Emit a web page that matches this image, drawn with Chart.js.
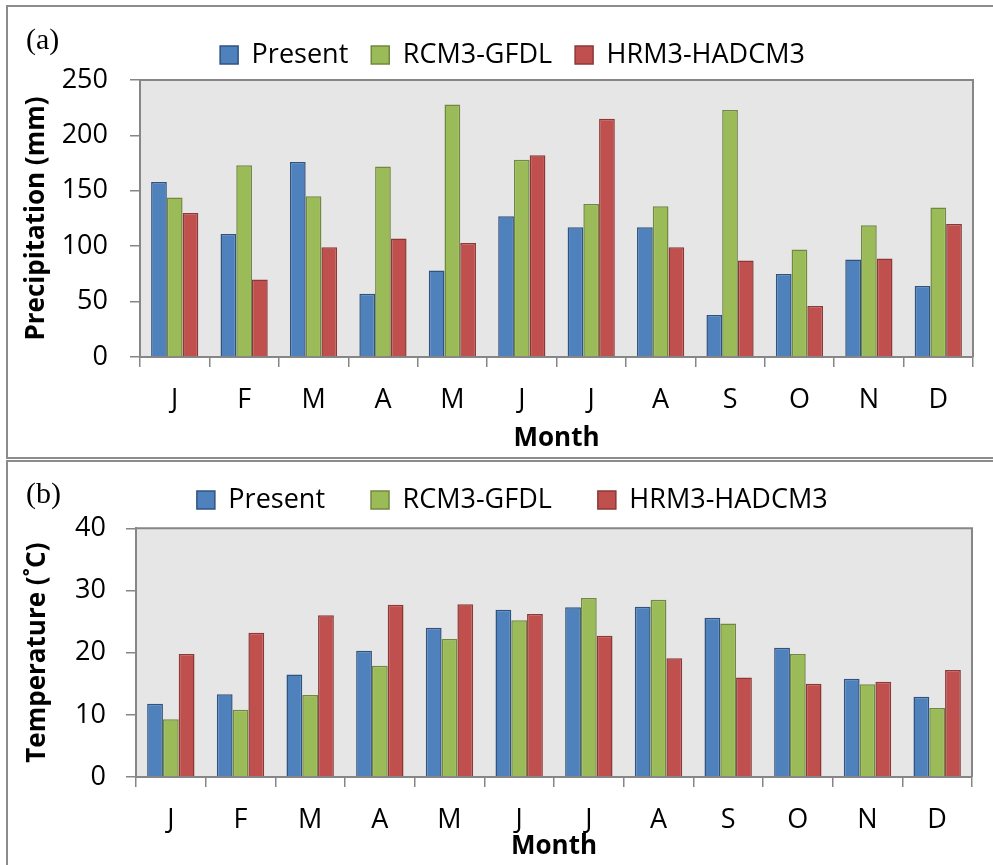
<!DOCTYPE html>
<html>
<head>
<meta charset="utf-8">
<script src="https://cdn.jsdelivr.net/npm/chart.js@4.4.1/dist/chart.umd.min.js"></script>
<style>
  html, body { margin: 0; padding: 0; background: #fff; overflow: hidden; width: 993px; height: 865px; }
  .panel { position: absolute; border: 2px solid #8c8c8c; box-sizing: border-box; }
  #panelA { left: 6px; top: 5px; width: 1010px; height: 454px; }
  #panelB { left: 6px; top: 460px; width: 1010px; height: 420px; }
  .wrap { position: absolute; left: 0; width: 993px; }
  #wrapA { top: 0; height: 459px; }
  #wrapB { top: 459px; height: 406px; }
  .tag { position: absolute; font-family: "Liberation Serif", "Times New Roman", serif; font-size: 30px; color: #000; line-height: 1; }
  #tagA { left: 26px; top: 24px; }
  #tagB { left: 26px; top: 478px; }
</style>
</head>
<body>
<div class="panel" id="panelA"></div>
<div class="panel" id="panelB"></div>
<div class="wrap" id="wrapA"><canvas id="chartA"></canvas></div>
<div class="wrap" id="wrapB"><canvas id="chartB"></canvas></div>
<div class="tag" id="tagA">(a)</div>
<div class="tag" id="tagB">(b)</div>
<script>
// Monthly categories
const months = ['J', 'F', 'M', 'A', 'M', 'J', 'J', 'A', 'S', 'O', 'N', 'D'];
const seriesNames = ['Present', 'RCM3-GFDL', 'HRM3-HADCM3'];

// Monthly precipitation (mm)
const precipPresent = [158, 111, 176, 57, 78, 127, 117, 117, 38, 75, 88, 64];
const precipRcm     = [144, 173, 145, 172, 228, 178, 138, 136, 223, 97, 119, 135];
const precipHrm     = [130, 70, 99, 107, 103, 182, 215, 99, 87, 46, 89, 120];

// Monthly mean temperature (°C)
const tempPresent = [11.8, 13.3, 16.5, 20.3, 24.0, 26.9, 27.3, 27.4, 25.6, 20.8, 15.8, 12.9];
const tempRcm     = [9.3, 10.8, 13.2, 17.9, 22.2, 25.2, 28.8, 28.5, 24.7, 19.8, 14.9, 11.1];
const tempHrm     = [19.8, 23.2, 26.0, 27.7, 27.8, 26.2, 22.7, 19.1, 16.0, 15.0, 15.3, 17.2];

// Axis ticks
const precipTicks = [0, 50, 100, 150, 200, 250];
const tempTicks = [0, 10, 20, 30, 40];

const fills   = ['#4F81BD', '#9BBB59', '#C0504D'];
const edges   = ['#2F5380', '#71893F', '#8C3836'];
const axisGray = '#868686';
const FONT = '"Open Sans", "Liberation Sans", Arial, sans-serif';

// Grey plot background with a frame around the plotting area
const plotFrame = {
  id: 'plotFrame',
  beforeDraw(chart) {
    const { ctx, chartArea: a } = chart;
    ctx.save();
    ctx.fillStyle = '#E6E6E6';
    ctx.fillRect(a.left, a.top, a.right - a.left, a.bottom - a.top);
    ctx.restore();
  },
  afterDraw(chart) {
    const { ctx, chartArea: a } = chart;
    ctx.save();
    ctx.strokeStyle = axisGray;
    ctx.lineWidth = 2;
    ctx.beginPath();
    ctx.moveTo(a.left, a.top);
    ctx.lineTo(a.right, a.top);
    ctx.lineTo(a.right, a.bottom);
    ctx.stroke();
    ctx.restore();
  }
};

function buildChart(id, values, ticks, cfg) {
  const datasets = values.map((v, i) => ({
    label: seriesNames[i],
    data: v,
    backgroundColor: fills[i],
    borderColor: edges[i],
    borderWidth: 1.5,
    categoryPercentage: 0.68,
    barPercentage: 1.0
  }));
  return new Chart(document.getElementById(id), {
    type: 'bar',
    data: { labels: months, datasets },
    plugins: [plotFrame],
    options: {
      responsive: true,
      maintainAspectRatio: false,
      animation: false,
      layout: { padding: cfg.padding },
      plugins: {
        tooltip: { enabled: false },
        legend: {
          position: 'top',
          labels: {
            color: '#000',
            boxWidth: 18,
            boxHeight: 18,
            padding: cfg.legendGap,
            font: { family: FONT, size: 27 }
          }
        },
        subtitle: {
          display: true,
          text: '',
          weight: 500,
          padding: 0,
          font: { size: cfg.spacer, lineHeight: 1 }
        }
      },
      scales: {
        x: {
          grid: { display: true, drawOnChartArea: false, offset: true, color: axisGray, lineWidth: 1.5, tickLength: 10 },
          border: { display: true, color: axisGray, width: 2 },
          ticks: { color: '#000', padding: cfg.xTickPad, font: { family: FONT, size: 27 } },
          title: {
            display: true, text: 'Month', color: '#000',
            font: { family: FONT, size: 26, weight: 'bold' },
            padding: { top: 0, bottom: cfg.xTitleBottom }
          },
          afterFit(scale) { scale.height = cfg.xHeight; }
        },
        y: {
          min: ticks[0],
          max: ticks[ticks.length - 1],
          afterBuildTicks(scale) { scale.ticks = ticks.map(v => ({ value: v })); },
          grid: { display: true, drawOnChartArea: false, color: axisGray, lineWidth: 1.5, tickLength: 10 },
          border: { display: true, color: axisGray, width: 2 },
          ticks: { color: '#000', padding: cfg.yTickPad, font: { family: FONT, size: 27 } },
          title: {
            display: true, text: cfg.yTitle, color: '#000',
            font: { family: FONT, size: 26, weight: 'bold' },
            padding: { top: cfg.yTitleTop, bottom: 0 }
          },
          afterFit(scale) { scale.width = cfg.yWidth; }
        }
      }
    }
  });
}

buildChart('chartA', [precipPresent, precipRcm, precipHrm], precipTicks, {
  padding: { left: 52, right: 20, top: 18.5, bottom: 0 },
  legendGap: 23,
  spacer: 1.5,
  xHeight: 102,
  xTickPad: 17,
  xTitleBottom: 5,
  yWidth: 88,
  yTickPad: 22,
  yTitleTop: -31.5,
  yTitle: 'Precipitation (mm)'
});

buildChart('chartB', [tempPresent, tempRcm, tempHrm], tempTicks, {
  padding: { left: 52.5, right: 21, top: -18.5, bottom: 0 },
  legendGap: 46,
  spacer: 4.8,
  xHeight: 88,
  xTickPad: 17,
  xTitleBottom: 3,
  yWidth: 83.5,
  yTickPad: 20,
  yTitleTop: -31,
  yTitle: 'Temperature (˚C)'
});
</script>
</body>
</html>
